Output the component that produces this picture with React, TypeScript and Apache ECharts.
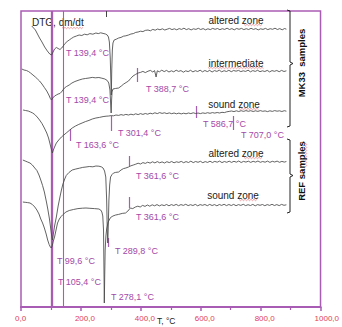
import React, { useEffect, useRef } from "react";
import * as echarts from "echarts";

const PURPLE = "#a95cb3";
const LABEL_PURPLE = "#a348a8";
const CURVE = "#474747";

const xTicks = [0, 200, 400, 600, 800, 1000];

const mk33Altered: number[][] = [[36,26],[42,28],[48,30],[55,34],[62,38],[70,42],[79,47],[88,51],[96,54],[102,55],[107,52],[112,49],[118,47.5],[124,48.5],[130,49.5],[136,48],[141,46],[147,43.5],[154,41.5],[161,40],[168,38.5],[176,37],[185,36],[194,35],[203,35.5],[212,34.2],[221,34.8],[230,33.6],[240,34.2],[250,33],[258,33.6],[266,32.8],[274,33.4],[282,34],[288,35],[292,37],[295,42],[298,58],[300,80],[301.5,95],[303,70],[305,50],[307,43],[311,40],[318,39.2],[326,38],[334,37.4],[342,36.2],[350,35.8],[359,35],[367,34],[375,33.6],[383,32.4],[391,32],[399,31.2],[407,31.6],[415,30.4],[424,30],[432,30.8],[440,29.4],[448,30.2],[456,29],[464,29.8],[472,28.8],[480,30],[488,29.2],[496,28.4],[504,29.6],[512,28.8],[520,29.8],[528,28.6],[536,29.4],[544,28.2],[552,29.6],[560,28.7],[568,29.9],[576,28.8],[584,29.4],[592,28.3],[600,29.5],[608,28.6],[616,29.8],[624,28.8],[632,29.6],[640,28.4],[648,29.3],[656,28.5],[664,29.7],[672,28.7],[680,29.4],[688,28.2],[696,29.5],[704,28.6],[712,29.8],[720,28.5],[728,29.3],[736,28.4],[744,29.6],[752,28.7],[760,29.5],[768,28.3],[776,29.4],[784,28.6],[792,29.9],[800,28.8],[808,29.4],[816,28.4],[824,29.6],[832,28.7],[840,29.3],[848,28.2],[856,29.5],[864,28.6],[872,29.8],[880,28.5],[886,29.2]];

const mk33Intermediate: number[][] = [[3,69],[10,70],[18,70.5],[25,71.5],[32,73],[40,75],[48,77],[55,79],[62,81],[70,84],[78,87.5],[86,91],[93,95],[98,98.5],[102,100],[106,98],[112,96],[118,95],[124,94],[130,93.5],[135,92],[140,90],[145,88],[152,86.5],[161,85],[170,83],[180,81.5],[194,80],[205,79],[215,78.5],[227,78],[238,77.4],[248,77.8],[260,77.5],[270,78.2],[280,79],[288,80.5],[293,83],[297,90],[299.5,105],[301,113],[302.5,100],[304,92],[307,89],[315,88.5],[326,88],[335,86],[343,84],[351,82.5],[359,81],[366,78.5],[374,76],[382,74.5],[391,73],[399,72.4],[407,71.4],[415,72.6],[424,71.2],[432,70.4],[440,72],[446,70.6],[451,77],[455,70.8],[462,71.8],[470,70.2],[478,71.6],[486,70.4],[494,72],[502,70.8],[510,71.8],[518,70.2],[526,71.4],[534,70.6],[542,72.2],[550,70.8],[558,71.6],[566,70.3],[574,71.9],[582,70.7],[590,71.5],[598,70.2],[606,71.8],[614,70.5],[622,71.6],[630,70.4],[638,72],[646,70.6],[654,71.4],[662,70.2],[670,71.8],[678,70.7],[686,71.5],[694,70.3],[702,71.7],[710,70.5],[718,71.2],[726,70.4],[734,71.6],[742,70.8],[750,71.4],[758,70.2],[766,71.8],[774,70.6],[782,71.4],[790,70.3],[798,71.7],[806,70.8],[814,71.5],[822,70.4],[830,71.9],[838,70.6],[846,71.3],[854,70.5],[862,71.7],[870,70.4],[878,71.5],[886,70.8]];

const mk33Sound: number[][] = [[7,110],[15,110.5],[24,111],[32,112],[39,113],[46,114.5],[54,117],[62,120],[70,123.5],[78,128],[86,133],[92,138],[97,144],[102,150],[105,153],[108,150],[112,147],[118,143],[126,140],[135,137],[143,135],[151,133],[161,130.5],[171,128],[182,126],[193,124.4],[204,123],[215,121.6],[227,120.4],[238,119],[250,118],[262,117.4],[274,116.6],[284,116.2],[293,116],[301,115.6],[309,115.8],[317,115],[326,115.4],[334,114.6],[342,115.2],[350,114.4],[359,115],[367,114.2],[375,114.8],[383,113.8],[391,114.6],[399,113.6],[407,114.4],[415,113.5],[423,114.2],[431,113.2],[439,113.8],[447,112.8],[455,113.6],[463,112.6],[471,113.4],[479,112.8],[487,113.6],[495,112.9],[503,113.7],[511,113],[519,113.8],[527,113.1],[535,113.9],[543,113.2],[551,113.8],[559,113],[567,113.6],[575,112.8],[583,113.5],[591,113],[599,113.6],[607,112.9],[615,113.4],[623,112.7],[631,113.3],[639,112.6],[647,113.1],[655,112.5],[663,113],[671,112.3],[679,112.6],[687,111.8],[695,111.4],[703,111],[711,111.6],[719,110.8],[727,111.5],[735,110.7],[743,111.4],[751,110.6],[759,111.3],[767,110.7],[775,111.5],[783,110.8],[791,111.4],[799,110.6],[807,111.3],[815,110.9],[823,111.6],[831,110.8],[839,111.4],[847,110.6],[855,111.2],[863,110.8],[871,111.5],[879,110.7],[886,111.2]];

const refAltered: number[][] = [[6,160],[14,161],[22,162],[30,163],[38,165],[46,168],[53,170.5],[60,175],[66,180],[72,185.5],[78,192],[85,202],[90,210],[95,219],[99,228],[102,235],[105,240],[108,234],[112,226],[118,217],[124,206],[130,197],[135,190],[140,184],[146,179],[151,175.5],[160,172.5],[171,170],[183,169],[195,168.2],[206,167.4],[217,167],[228,166.5],[240,166.8],[250,166],[260,166.2],[268,166.8],[274,168],[279,171],[283,177],[286,200],[288,230],[289.8,243],[291.5,225],[293.5,200],[296,185],[299,177],[304,174.5],[309,173],[316,172.4],[326,172],[334,170],[342,168.6],[350,168],[359,167],[367,165.8],[375,165],[383,164.2],[391,163.2],[399,164],[407,162.6],[415,163.4],[423,162.2],[431,163.1],[439,161.8],[447,162.9],[455,161.6],[463,162.8],[471,161.9],[479,163],[487,161.7],[495,162.6],[503,161.5],[511,162.8],[519,161.8],[527,162.4],[535,161.4],[543,162.7],[551,161.6],[559,162.5],[567,161.2],[575,162.6],[583,161.5],[591,162.3],[599,161.3],[607,162.7],[615,161.6],[623,162.4],[631,161.2],[639,162.5],[647,161.4],[655,162.2],[663,161.1],[671,162.6],[679,161.5],[687,162.3],[695,161.2],[703,162.4],[711,161.3],[719,162.2],[727,161],[735,162.5],[743,161.4],[751,162.1],[759,161.2],[767,162.4],[775,161.3],[783,162.1],[791,161],[799,162.3],[807,161.5],[815,162.2],[823,161.1],[831,162.4],[839,161.3],[847,162],[855,161.1],[863,162.3],[871,161.4],[879,162.1],[886,161.5]];

const refSound: number[][] = [[6,202],[14,202.3],[22,202.6],[30,203],[38,204.5],[46,207],[53,210],[60,214],[66,219],[72,223],[78,228],[84,234],[89,240],[94,244.5],[98,247],[101,248],[104,246],[108,241],[112,237],[117,230],[122,223],[128,219],[134,216.5],[140,214.6],[150,212],[161,210.5],[175,209.5],[190,208.6],[205,208.2],[217,208],[230,208.3],[245,208.6],[260,209],[266,210],[270,212],[273,216],[275.5,230],[277,270],[278.1,303],[279.5,275],[281,250],[283.5,236],[286,229],[291,222],[299,217.5],[307,216],[316,215],[326,214.4],[338,213.4],[349,213],[357,211],[365,208],[373,208.6],[382,207],[390,206.2],[398,207],[406,205.4],[414,206.4],[422,205],[430,206.2],[438,204.8],[446,205.8],[454,204.6],[462,205.9],[470,204.8],[478,205.6],[486,204.5],[494,205.8],[502,204.6],[510,205.5],[518,204.4],[526,205.7],[534,204.6],[542,205.4],[550,204.3],[558,205.6],[566,204.7],[574,205.5],[582,204.4],[590,205.8],[598,204.6],[606,205.3],[614,204.5],[622,205.7],[630,204.4],[638,205.5],[646,204.6],[654,205.8],[662,204.5],[670,205.4],[678,204.3],[686,205.6],[694,204.5],[702,205.5],[710,204.4],[718,205.7],[726,204.6],[734,205.4],[742,204.3],[750,205.6],[758,204.7],[766,205.5],[774,204.4],[782,205.8],[790,204.6],[798,205.3],[806,204.5],[814,205.7],[822,204.6],[830,205.4],[838,204.3],[846,205.5],[854,204.6],[862,205.6],[870,204.4],[878,205.3],[886,204.8]];

// characteristic temperatures drawn as full-height lines
const peakLines = [
  { t: 99.6, width: 1.3 },
  { t: 105.4, width: 1.3 },
  { t: 139.4, width: 1.1 },
];

// short marker ticks [temperature, yFrom, yTo]
const peakTicks: number[][] = [
  [388.7, 68, 82],
  [301.4, 116, 131],
  [163.6, 129, 141],
  [586.7, 106, 118],
  [707.0, 116, 130],
  [361.6, 156, 166],
  [361.6, 197, 208],
  [289.8, 238, 247],
];

// temperature labels [text, x, y]
const peakLabels: [string, number, number][] = [
  ["T 139,4 °C", 66, 53],
  ["T 139,4 °C", 66, 100],
  ["T 388,7 °C", 146, 89],
  ["T 301,4 °C", 118, 133],
  ["T 163,6 °C", 76, 145],
  ["T 586,7 °C", 203, 124],
  ["T 707,0 °C", 241, 135],
  ["T 361,6 °C", 136, 176],
  ["T 361,6 °C", 136, 217],
  ["T 289,8 °C", 115, 251],
  ["T 99,6 °C", 57, 261],
  ["T 105,4 °C", 58, 282],
  ["T 278,1 °C", 111, 297],
];

const curveLabels: [string, number, number][] = [
  ["altered zone", 236, 20],
  ["intermediate", 236, 63],
  ["sound zone", 234, 104],
  ["altered zone", 236, 153],
  ["sound zone", 233, 195],
];

// spell-check style wavy underlines [x0, x1, y] (horizontal) for label words
const squiggles: number[][] = [
  [62, 83, 28],
  [244, 263, 25],
  [208, 264, 68],
  [239, 259, 109],
  [244, 263, 158],
  [239, 258, 200],
];

const FONT = "'Liberation Sans', Arial, sans-serif";

function wave(x0: number, x1: number, y: number): number[][] {
  const pts: number[][] = [];
  let up = true;
  for (let x = x0; x <= x1; x += 1.5) {
    pts.push([x, up ? y - 0.7 : y + 0.7]);
    up = !up;
  }
  return pts;
}

function vwave(x: number, y0: number, y1: number): number[][] {
  const pts: number[][] = [];
  let up = true;
  for (let y = y0; y <= y1; y += 1.5) {
    pts.push([up ? x - 0.7 : x + 0.7, y]);
    up = !up;
  }
  return pts;
}

export default function App() {
  const ref = useRef<HTMLDivElement>(null);
  useEffect(() => {
    if (!ref.current) return;
    const chart = echarts.init(ref.current, undefined, { renderer: "svg" });
    const curves = [mk33Altered, mk33Intermediate, mk33Sound, refAltered, refSound];
    const names = ["MK33 altered", "MK33 intermediate", "MK33 sound", "REF altered", "REF sound"];

    const markData: any[] = [
      ...peakLines.map((p) => ({ xAxis: p.t, lineStyle: { color: PURPLE, width: p.width, type: "solid" } })),
      ...peakTicks.map((p) => [
        { coord: [p[0], p[1]], lineStyle: { color: PURPLE, width: 1.2, type: "solid" } },
        { coord: [p[0], p[2]] },
      ]),
      [
        { coord: [283, 11], lineStyle: { color: "#444", width: 1, type: "solid" } },
        { coord: [283, 17] },
      ],
    ];

    const series: any[] = curves.map((d, i) => ({
      name: names[i],
      type: "line",
      data: d,
      showSymbol: false,
      symbol: "none",
      silent: true,
      lineStyle: { color: CURVE, width: 0.85 },
      z: 3,
      ...(i === 0
        ? {
            markLine: {
              silent: true,
              symbol: ["none", "none"],
              label: { show: false },
              data: markData,
              z: 2,
            },
          }
        : {}),
    }));

    const graphic: any[] = [
      {
        type: "text",
        left: 32,
        top: 17,
        style: { text: "DTG, dm/dt", font: `10px ${FONT}`, fill: "#222" },
      },
      {
        type: "text",
        left: 157,
        top: 316,
        style: { text: "T, °C", font: `8.5px ${FONT}`, fill: "#222" },
      },
      ...curveLabels.map(([t, x, y]) => ({
        type: "text",
        x,
        y,
        style: { text: t, font: `10px ${FONT}`, fill: "#222", align: "center", verticalAlign: "middle" },
      })),
      ...peakLabels.map(([t, x, y]) => ({
        type: "text",
        x,
        y,
        style: { text: t, font: `9px ${FONT}`, fill: LABEL_PURPLE, align: "left", verticalAlign: "middle" },
      })),
      ...squiggles.map(([x0, x1, y]) => ({
        type: "polyline",
        shape: { points: wave(x0, x1, y) },
        style: { stroke: "#e8606a", lineWidth: 0.6, fill: "none" },
      })),
      {
        type: "polyline",
        shape: { points: vwave(306, 143, 168) },
        style: { stroke: "#e8606a", lineWidth: 0.6, fill: "none" },
      },
      // MK33 bracket
      {
        type: "polyline",
        shape: { points: [[287, 10], [290, 11], [290, 62], [293, 63.5], [290, 65], [290, 126], [287, 127]] },
        style: { stroke: "#222", lineWidth: 1, fill: "none" },
      },
      // REF bracket
      {
        type: "polyline",
        shape: { points: [[287, 139], [290, 140], [290, 174], [293, 175.5], [290, 177], [290, 212], [287, 213]] },
        style: { stroke: "#222", lineWidth: 1, fill: "none" },
      },
      {
        type: "text",
        x: 301,
        y: 63,
        rotation: Math.PI / 2,
        style: { text: "MK33  samples", font: `bold 9.5px ${FONT}`, fill: "#111", align: "center", verticalAlign: "middle" },
      },
      {
        type: "text",
        x: 301,
        y: 171,
        rotation: Math.PI / 2,
        style: { text: "REF samples", font: `bold 9.5px ${FONT}`, fill: "#111", align: "center", verticalAlign: "middle" },
      },
    ];

    chart.setOption({
      animation: false,
      grid: {
        left: 21,
        right: 17,
        top: 11,
        bottom: 20,
        show: true,
        borderColor: PURPLE,
        borderWidth: 1.5,
        containLabel: false,
      },
      xAxis: {
        type: "value",
        min: xTicks[0],
        max: xTicks[xTicks.length - 1],
        interval: 200,
        axisLine: { show: true, onZero: false, lineStyle: { color: PURPLE, width: 2 } },
        axisTick: { show: true, length: 4, lineStyle: { color: PURPLE, width: 1.5 } },
        minorTick: { show: true, splitNumber: 2, length: 3, lineStyle: { color: PURPLE, width: 1.2 } },
        splitLine: { show: false },
        axisLabel: {
          color: "#e2405a",
          fontSize: 8,
          fontFamily: FONT,
          margin: 7,
          align: "left",
          padding: [0, 0, 0, -6],
          formatter: (v: number) => v.toFixed(1).replace(".", ","),
        },
      },
      yAxis: { type: "value", min: 11, max: 307, inverse: true, show: false },
      series,
      graphic,
    });
    return () => chart.dispose();
  }, []);
  return (
    <div
      ref={ref}
      style={{ position: "fixed", left: 0, top: 0, width: 342, height: 327, background: "#fff" }}
    />
  );
}
